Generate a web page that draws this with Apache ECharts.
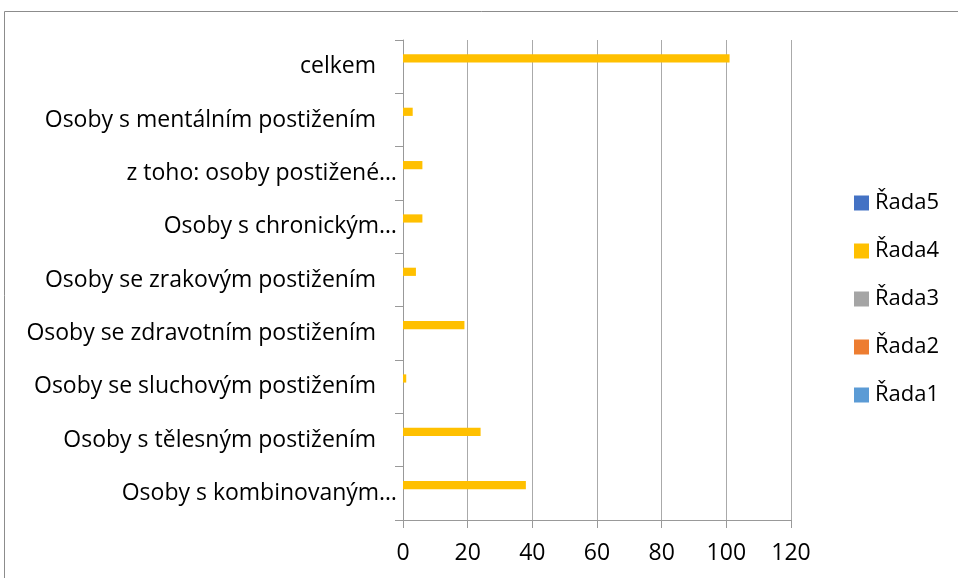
<!DOCTYPE html>
<html>
<head>
<meta charset="utf-8">
<script src="https://cdn.jsdelivr.net/npm/echarts@6/dist/echarts.min.js"></script>
<style>
  html, body { margin: 0; padding: 0; background: #fff; }
  #chart { width: 958px; height: 578px; }
</style>
</head>
<body>
<div id="chart"></div>
<script>
// kategorie zdola nahoru
const categories = [
  'Osoby s kombinovaným…',
  'Osoby s tělesným postižením',
  'Osoby se sluchovým postižením',
  'Osoby se zdravotním postižením',
  'Osoby se zrakovým postižením',
  'Osoby s chronickým…',
  'z toho: osoby postižené…',
  'Osoby s mentálním postižením',
  'celkem'
]
const rada1 = []
const rada2 = []
const rada3 = []
const rada4 = [38, 24, 1, 19, 4, 6, 6, 3, 101]
const rada5 = []
const xTicks = [0, 20, 40, 60, 80, 100, 120]

const seriesNames = ['Řada1', 'Řada2', 'Řada3', 'Řada4', 'Řada5']
const seriesData = [rada1, rada2, rada3, rada4, rada5]
const colors = ['#5B9BD5', '#ED7D31', '#A5A5A5', '#FFC000', '#4472C4']

const myChart = echarts.init(document.getElementById('chart'))
// v echarts je první řada nahoře, proto obrácené pořadí (Řada1 dole jako v Excelu)
const order = [4, 3, 2, 1, 0]
myChart.setOption({
  animation: false,
  textStyle: { fontFamily: 'Open Sans' },
  graphic: [{
    type: 'rect',
    shape: { x: 4.5, y: 11.5, width: 1200, height: 1200 },
    style: { fill: 'none', stroke: '#8c8c8c', lineWidth: 1 }
  }],
  grid: { left: 403, right: 167, top: 40, bottom: 58 },
  legend: {
    orient: 'vertical',
    left: 854,
    top: 192,
    padding: 0,
    itemWidth: 15,
    itemHeight: 15,
    itemGap: 26,
    icon: 'rect',
    data: seriesNames.slice().reverse(),
    textStyle: { fontSize: 22, lineHeight: 22, color: '#000', padding: [0, 0, 0, 1] }
  },
  xAxis: {
    type: 'value',
    min: 0,
    max: 120,
    interval: 20,
    axisLine: { show: true, lineStyle: { color: '#999' } },
    axisTick: { show: true, length: 8, lineStyle: { color: '#999' } },
    splitLine: { lineStyle: { color: '#aaa' } },
    axisLabel: {
      fontSize: 23,
      color: '#000',
      margin: 22,
      formatter: v => xTicks.includes(v) ? String(v) : ''
    }
  },
  yAxis: {
    type: 'category',
    data: categories,
    axisLine: { lineStyle: { color: '#999' } },
    axisTick: { show: true, length: 8, lineStyle: { color: '#999' } },
    axisLabel: {
      color: '#000',
      margin: 6,
      // zkrácené popisky sahají blíž k ose
      formatter: v => v.endsWith('…') ? '{e|' + v + '}' : '{n|' + v + '}',
      rich: {
        e: { fontSize: 23, color: '#000', fontFamily: 'Open Sans' },
        n: { fontSize: 23, color: '#000', fontFamily: 'Open Sans', padding: [0, 21, 0, 0] }
      }
    }
  },
  series: order.map(i => ({
    name: seriesNames[i],
    type: 'bar',
    data: seriesData[i],
    barWidth: 8.2,
    barGap: '0%',
    itemStyle: { color: colors[i] }
  }))
})
</script>
</body>
</html>
